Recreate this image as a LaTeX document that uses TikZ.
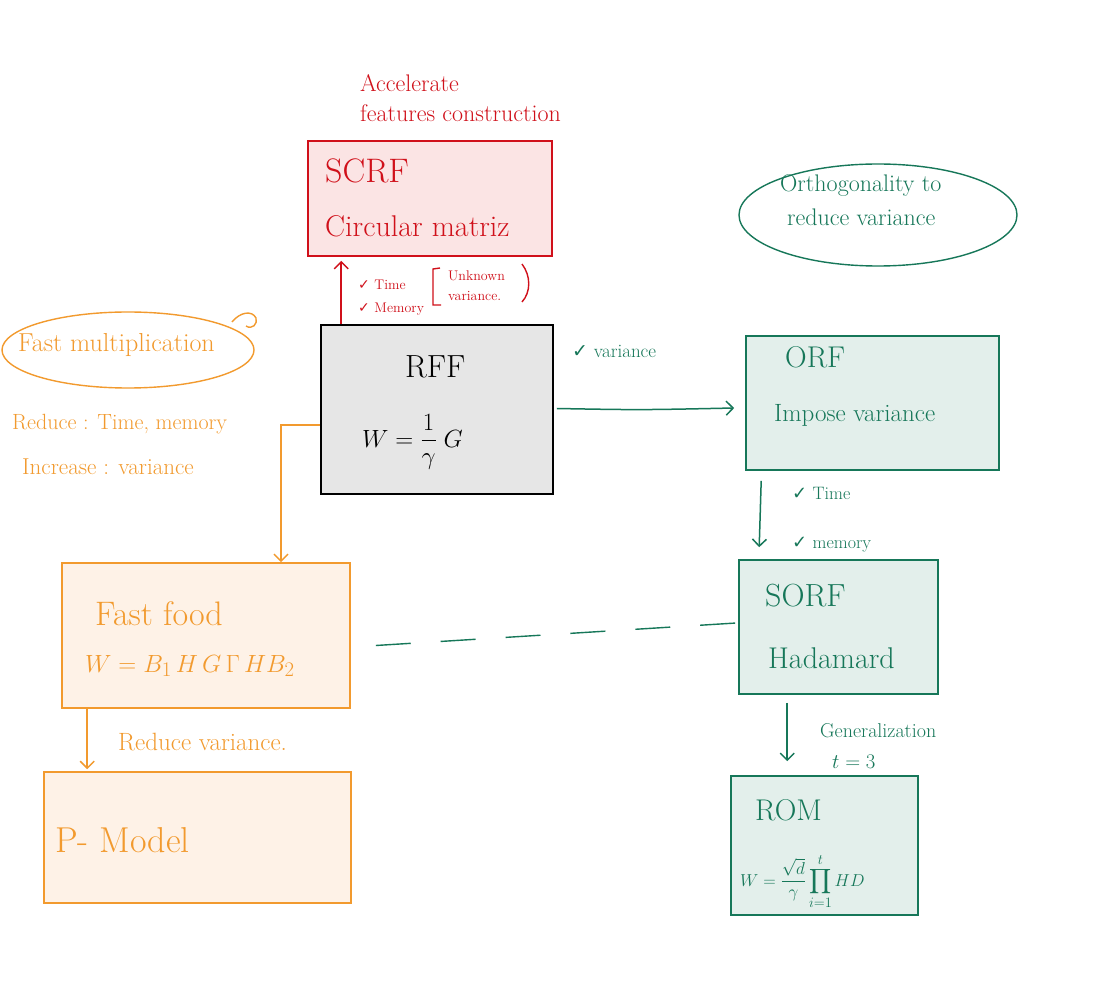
\documentclass[tikz,border=0pt]{standalone}
\usepackage{fontspec}
\usepackage{amsmath}
\usetikzlibrary{arrows.meta,calc,shapes.geometric}
\newfontfamily\symfont{DejaVu Sans}
\definecolor{cred}{HTML}{D0101A}
\definecolor{credfill}{HTML}{FBE4E4}
\definecolor{corg}{HTML}{F29A2E}
\definecolor{corgfill}{HTML}{FEF2E7}
\definecolor{cgrn}{HTML}{167759}
\definecolor{cgrnfill}{HTML}{E3EFEB}
\definecolor{cgryfill}{HTML}{E6E6E6}
\newcommand{\fs}[1]{\fontsize{#1}{#1}\selectfont}
\newcommand{\ck}{{\symfont\char"2713}}
\tikzset{
  box/.style={draw, line width=1.6pt, inner sep=0pt, rectangle},
  lbl/.style={anchor=base west, inner sep=0pt},
  conn/.style={line width=1.5pt, -{Straight Barb[length=7pt,width=14pt,line width=1.5pt]}},
}
\begin{document}
\begin{tikzpicture}[x=1pt,y=-1pt]
\useasboundingbox[fill=white] (0,0) rectangle (1096,1000);

% ---------- boxes ----------
\node[box, draw=cred, fill=credfill, minimum width=244pt, minimum height=115pt] (scrf) at (430,198.5) {};
\node[box, draw=black, fill=cgryfill, minimum width=232pt, minimum height=169pt] (rff) at (437,409.5) {};
\node[box, draw=cgrn, fill=cgrnfill, minimum width=253pt, minimum height=134pt] (orf) at (872.5,403) {};
\node[box, draw=cgrn, fill=cgrnfill, minimum width=199pt, minimum height=134pt] (sorf) at (838.5,627) {};
\node[box, draw=cgrn, fill=cgrnfill, minimum width=187pt, minimum height=139pt] (rom) at (824.5,845.5) {};
\node[box, draw=corg, fill=corgfill, minimum width=288pt, minimum height=145pt] (ff) at (206,635.5) {};
\node[box, draw=corg, fill=corgfill, minimum width=307pt, minimum height=131pt] (pm) at (197.5,837.5) {};

% ---------- ellipses ----------
\node[draw=corg, line width=1.4pt, ellipse, minimum width=252pt, minimum height=76pt, inner sep=0pt] (fmell) at (128,350) {};
\draw[corg, line width=1.4pt] (232,322) .. controls (240,312) and (252,310) .. (256,318) .. controls (258,324) and (252,330) .. (246,326);
\node[draw=cgrn, line width=1.4pt, ellipse, minimum width=278pt, minimum height=102pt, inner sep=0pt] (orell) at (878,215) {};

% ---------- texts: SCRF ----------
\node[lbl, text=cred] (acc) at (360,92) {\fs{24}Accelerate};
\node[lbl, text=cred] (feat) at (360,122) {\fs{24}features construction};
\node[lbl, text=cred] (scrft) at (325,183) {\fs{34}SCRF};
\node[lbl, text=cred] (circ) at (325,237) {\fs{30}Circular matriz};
\node[lbl, text=cred] (rtime) at (358,290) {\fs{14}\ck\ Time};
\node[lbl, text=cred] (rmem) at (358,313) {\fs{14}\ck\ Memory};
\node[lbl, text=cred] (unk) at (448,281) {\fs{14}Unknown};
\node[lbl, text=cred] (var) at (448,301) {\fs{14}variance.};
\draw[cred, line width=1.4pt] (440,268) -- (433,269) -- (433,305) -- (441,305);
\draw[cred, line width=1.4pt] (522,264) .. controls (531,276) and (531,292) .. (522,302);

% ---------- texts: RFF ----------
\node[lbl] (rfft) at (405,378) {\fs{32}RFF};
\node[lbl] (rffw) at (362,447) {\fs{28}$\displaystyle W = \frac{1}{\gamma}\; G$};

% ---------- texts: orange ----------
\node[lbl, text=corg] (fm) at (18,352) {\fs{26}Fast multiplication};
\node[lbl, text=corg] (red) at (12,430) {\fs{22}Reduce : Time, memory};
\node[lbl, text=corg] (inc) at (22,475) {\fs{23}Increase : variance};
\node[lbl, text=corg] (fft) at (95,625) {\fs{34}Fast food};
\node[lbl, text=corg] (ffw) at (85,672) {\fs{28}$W = B_1\, H\, G\, \Gamma\, H B_2$};
\node[lbl, text=corg] (redv) at (118,750) {\fs{25}Reduce variance.};
\node[lbl, text=corg] (pmt) at (55,852) {\fs{36}P- Model};

% ---------- texts: green ----------
\node[lbl, text=cgrn] (orth) at (780,192) {\fs{24}Orthogonality to};
\node[lbl, text=cgrn] (redvar) at (787,226) {\fs{24}reduce variance};
\node[lbl, text=cgrn] (gvar) at (572,358) {\fs{19}\ck\ variance};
\node[lbl, text=cgrn] (orft) at (785,368) {\fs{30}ORF};
\node[lbl, text=cgrn] (imp) at (774,422) {\fs{25}Impose variance};
\node[lbl, text=cgrn] (gtime) at (792,500) {\fs{18}\ck\ Time};
\node[lbl, text=cgrn] (gmem) at (792,548) {\fs{18}\ck\ memory};
\node[lbl, text=cgrn] (sorft) at (765,606) {\fs{32}SORF};
\node[lbl, text=cgrn] (had) at (768,668) {\fs{30}Hadamard};
\node[lbl, text=cgrn] (gen) at (820,737) {\fs{20}Generalization};
\node[lbl, text=cgrn] (t3) at (832,768) {\fs{20}$t = 3$};
\node[lbl, text=cgrn] (romt) at (755,820) {\fs{30}ROM};
\node[lbl, text=cgrn] (romw) at (740,886) {\fs{19}$\displaystyle W = \frac{\sqrt{d}}{\gamma} \prod_{i=1}^{t} HD$};

% ---------- connectors ----------
\draw[conn, cred] ([xshift=21pt]rff.north west) -- ([xshift=34pt,yshift=-4pt]scrf.south west);
\draw[conn, cgrn] ([yshift=1pt,xshift=3pt]rff.east) .. controls (640,410) .. ([xshift=-11pt,yshift=-5pt]orf.west);
\draw[conn, corg] ([yshift=-15.5pt]rff.west) -| (ff.north -| 281,0);
\draw[conn, corg] ([xshift=26pt]ff.south west) -- ([xshift=44pt,yshift=2pt]pm.north west);
\draw[conn, cgrn] ([xshift=16pt,yshift=-10pt]orf.south west) -- ([xshift=21pt,yshift=12pt]sorf.north west);
\draw[conn, cgrn] ([xshift=49pt,yshift=-8pt]sorf.south west) -- ([xshift=57pt,yshift=14pt]rom.north west);
\draw[cgrn, line width=1.4pt, dash pattern=on 35pt off 30pt] ([xshift=25pt,yshift=-10pt]ff.east) -- ([xshift=-2pt,yshift=4pt]sorf.west);
\end{tikzpicture}
\end{document}
